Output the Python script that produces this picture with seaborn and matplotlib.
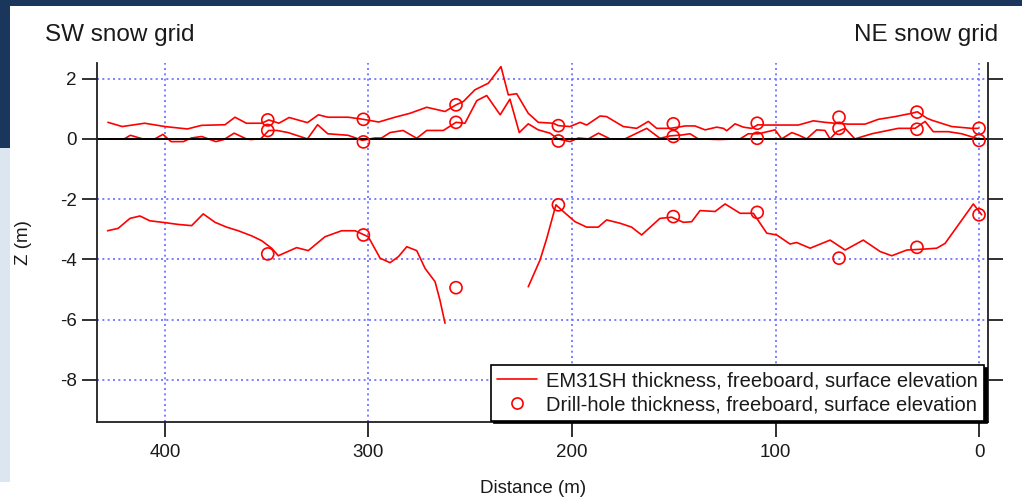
import numpy as np
import pandas as pd
import matplotlib
matplotlib.use("Agg")
import matplotlib.pyplot as plt
from matplotlib.lines import Line2D
from matplotlib.patches import Rectangle
import seaborn as sns

# EM31SH surface elevation profile (m)
surface_dist = [428, 421, 410, 400, 389, 382, 370.5, 365.6, 360, 352.5, 349, 344, 339, 330,
                324.6, 320, 310, 302.5, 295, 287, 279.6, 271.4, 262.4, 257, 253.4, 247.7,
                241.1, 234.9, 231.3, 227.2, 221.5, 216.6, 209.2, 206.7, 201, 196, 192.8,
                186.2, 183, 174.8, 168.2, 162.5, 158.4, 151.8, 146, 144.5, 139.6, 134.6,
                128.9, 125.6, 124, 119.9, 115.8, 111.7, 108.7, 105.2, 97, 88.8, 81.4, 75.7,
                70.8, 64.2, 56, 49.5, 41.3, 33.1, 30.3, 25.7, 23.2, 13.4, 3.6, 0.5]
surface_z = [0.55, 0.41, 0.52, 0.41, 0.33, 0.45, 0.47, 0.72, 0.52, 0.52, 0.63, 0.52, 0.71, 0.54,
             0.80, 0.72, 0.72, 0.65, 0.56, 0.72, 0.85, 1.05, 0.91, 1.13, 1.24, 1.63,
             1.85, 2.40, 1.46, 1.50, 0.85, 0.55, 0.52, 0.44, 0.41, 0.55, 0.46,
             0.76, 0.74, 0.41, 0.35, 0.58, 0.35, 0.35, 0.41, 0.43, 0.43, 0.30,
             0.39, 0.35, 0.27, 0.50, 0.39, 0.35, 0.47, 0.46, 0.46, 0.46, 0.60, 0.55,
             0.52, 0.49, 0.49, 0.65, 0.74, 0.85, 0.90, 0.69, 0.62, 0.41, 0.35, 0.35]

# EM31SH freeboard profile (m)
freeboard_dist = [428, 420, 417, 411, 405, 401, 397, 391, 387, 382, 375, 371, 366, 360, 358,
                  353, 349, 345, 339.5, 330, 325, 320, 310, 303, 297, 293.6, 289.4, 283,
                  276.3, 271.4, 263.2, 257, 252.6, 246.8, 241.9, 235.3, 230.5, 225.9,
                  221.5, 216.6, 210.8, 207, 201, 196.9, 192, 187, 181.3, 174, 163.3,
                  156.8, 151.8, 146, 142, 138, 128, 117.4, 113.4, 108.4, 100.2, 97, 92,
                  88.8, 84.7, 79.8, 75.7, 73.2, 69.9, 65.8, 61, 52.7, 39.7, 31.4, 26.5,
                  22.5, 15.1, 8.5, 0.3]
freeboard_z = [0.0, 0.0, 0.12, 0.0, 0.0, 0.15, -0.09, -0.09, 0.03, 0.08, -0.09, -0.02, 0.19, 0.0, -0.02,
               0.0, 0.28, 0.28, 0.21, 0.0, 0.47, 0.17, 0.12, -0.05, 0.03, 0.03, 0.21, 0.28,
               0.02, 0.28, 0.28, 0.55, 0.52, 1.27, 1.44, 0.80, 1.32, 0.21,
               0.50, 0.30, 0.19, 0.0, -0.09, 0.03, 0.0, 0.19, 0.0, 0.0, 0.35,
               0.02, 0.10, 0.13, 0.17, 0.0, -0.02, 0.0, 0.17, 0.17, 0.30, 0.0, 0.21,
               0.13, 0.0, 0.30, 0.28, 0.0, 0.24, 0.35, 0.0, 0.17, 0.35, 0.35, 0.58,
               0.24, 0.24, 0.17, 0.0]

# EM31SH ice thickness profile (m, plotted as negative depth); NaN marks the data gap
thickness_dist = [428.2, 423, 417.2, 412.3, 407.4, 400, 393.5, 386.9, 381.2, 375.4, 369.7, 364,
                  357.4, 352.5, 347.6, 344.3, 341, 335.3, 329.6, 321.4, 313.2, 306.6, 300.1,
                  294.3, 289.4, 285.3, 281.2, 276.3, 272.2, 267.3, 264.9, 262.4, 240,
                  221.5, 215.7, 212.4, 207.9, 204.3, 198.5, 192.8, 187.1, 183, 176.4, 170.7,
                  165.8, 156.8, 151, 145.3, 141.2, 137.1, 129.7, 124.8, 117.4, 110.9, 104.3,
                  99.4, 92.9, 89.6, 83, 73.2, 65.8, 56.9, 48.6, 42.9, 35.5, 27.3, 20.8, 16.7,
                  2.8, -1.3]
thickness_z = [-3.05, -2.97, -2.64, -2.56, -2.72, -2.78, -2.84, -2.88, -2.49, -2.77, -2.93, -3.05,
               -3.22, -3.38, -3.63, -3.88, -3.78, -3.61, -3.71, -3.25, -3.05, -3.05, -3.25,
               -3.96, -4.11, -3.91, -3.58, -3.71, -4.30, -4.74, -5.35, -6.12, np.nan,
               -4.91, -4.02, -3.30, -2.19, -2.41, -2.75, -2.93, -2.93, -2.69, -2.80, -2.93,
               -3.19, -2.64, -2.60, -2.77, -2.75, -2.38, -2.41, -2.16, -2.47, -2.47, -3.13,
               -3.19, -3.49, -3.44, -3.63, -3.36, -3.69, -3.36, -3.74, -3.88, -3.69, -3.66, -3.63, -3.47,
               -2.16, -2.52]

# Drill-hole measurements
drill_dist = [349.5, 302.5, 257, 206.7, 150.2, 109, 68.8, 30.5, 0]
drill_thickness = [-3.82, -3.19, -4.94, -2.19, -2.58, -2.44, -3.96, -3.60, -2.52]
drill_freeboard = [0.28, -0.10, 0.55, -0.07, 0.08, 0.02, 0.35, 0.32, -0.05]
drill_surface = [0.63, 0.65, 1.13, 0.44, 0.50, 0.52, 0.72, 0.89, 0.35]

x_ticks = [400, 300, 200, 100, 0]
y_ticks = [2, 0, -2, -4, -6, -8]
legend_labels = ["EM31SH thickness, freeboard, surface elevation",
                 "Drill-hole thickness, freeboard, surface elevation"]

sns.set_theme(style="white")
plt.rcParams["font.family"] = ["Liberation Sans", "DejaVu Sans"]
TEXT = "#1a1a1a"
RED = "#ff0000"

fig = plt.figure(figsize=(10.22, 4.99), dpi=100)
fig.patch.set_facecolor("white")

# slide-style frame strips
navy = "#1b365d"
fig.add_artist(Rectangle((0, 1 - 5.5 / 499), 1, 5.5 / 499, transform=fig.transFigure,
                         facecolor=navy, edgecolor="none", zorder=0))
fig.add_artist(Rectangle((0, 1 - 148 / 499), 10 / 1022, 148 / 499, transform=fig.transFigure,
                         facecolor=navy, edgecolor="none", zorder=0))
fig.add_artist(Rectangle((0, 1 - 482 / 499), 10 / 1022, (482 - 148) / 499, transform=fig.transFigure,
                         facecolor="#dce6f1", edgecolor="none", zorder=0))

ax = fig.add_axes([97 / 1022, 1 - 422 / 499, 891 / 1022, 359 / 499])
ax.set_facecolor("white")

# profile lines
surf_df = pd.DataFrame({"d": surface_dist, "z": surface_z})
fb_df = pd.DataFrame({"d": freeboard_dist, "z": freeboard_z})
th_df = pd.DataFrame({"d": thickness_dist, "z": thickness_z})
th_df["seg"] = th_df["z"].isna().cumsum()
th_df = th_df.dropna()

line_kw = dict(color=RED, linewidth=1.2, sort=False, estimator=None, legend=False, zorder=2)
sns.lineplot(data=surf_df, x="d", y="z", ax=ax, **line_kw)
sns.lineplot(data=fb_df, x="d", y="z", ax=ax, **line_kw)
sns.lineplot(data=th_df, x="d", y="z", units="seg", ax=ax, **line_kw)

ax.axhline(0, color="black", linewidth=1.4, zorder=2.5)

# drill-hole points
drill_df = pd.DataFrame({
    "d": drill_dist * 3,
    "z": drill_thickness + drill_freeboard + drill_surface,
})
sns.scatterplot(data=drill_df, x="d", y="z", ax=ax, marker="o", s=75,
                facecolor="none", edgecolor=RED, linewidth=1.2, legend=False, zorder=3)

ax.set_xlim(433.4, -4.4)
ax.set_ylim(-9.40, 2.52)
ax.set_xticks(x_ticks)
ax.set_yticks(y_ticks)
ax.set_xticklabels([str(v) for v in x_ticks])
ax.set_yticklabels([str(v) for v in y_ticks])

ax.set_axisbelow(True)
ax.grid(True, color="#6a6aff", linestyle=(0, (1.2, 2.0)), linewidth=1.2)

for side in ["left", "right", "bottom"]:
    ax.spines[side].set_visible(True)
    ax.spines[side].set_color("#202020")
    ax.spines[side].set_linewidth(1.3)
ax.spines["top"].set_visible(False)

ax.tick_params(axis="both", which="major", direction="out", length=10.5, width=1.3,
               color="#202020", labelsize=13.5, labelcolor=TEXT)
ax.tick_params(axis="y", left=True, right=True, labelright=False, pad=4)
ax.tick_params(axis="x", bottom=True, top=False, pad=5)

ax.set_xlabel("Distance (m)", fontsize=13.5, color=TEXT, labelpad=14)
ax.xaxis.label.set_x(0.489)
ax.set_ylabel("Z (m)", fontsize=13.5, color=TEXT, labelpad=20)

fig.text(45 / 1022, 1 - 41 / 499, "SW snow grid", fontsize=17.5, color=TEXT,
         ha="left", va="baseline")
fig.text(998 / 1022, 1 - 41 / 499, "NE snow grid", fontsize=17.5, color=TEXT,
         ha="right", va="baseline")

handles = [
    Line2D([], [], color=RED, linewidth=1.2),
    Line2D([], [], color=RED, marker="o", linestyle="none", markersize=8,
           markerfacecolor="none", markeredgewidth=1.2),
]
leg = ax.legend(handles, legend_labels, loc="lower right",
                bbox_to_anchor=((984 - 97) / 891, 0.004), borderaxespad=0,
                fontsize=14.5, frameon=True, fancybox=False, framealpha=1,
                edgecolor="black", handlelength=2.0, handletextpad=0.45,
                labelspacing=0.25, borderpad=0.3,
                shadow={"color": "black", "alpha": 1.0})
leg.get_frame().set_linewidth(1.2)
for t in leg.get_texts():
    t.set_color(TEXT)

fig.savefig("out.png", dpi=100, facecolor=fig.get_facecolor())
